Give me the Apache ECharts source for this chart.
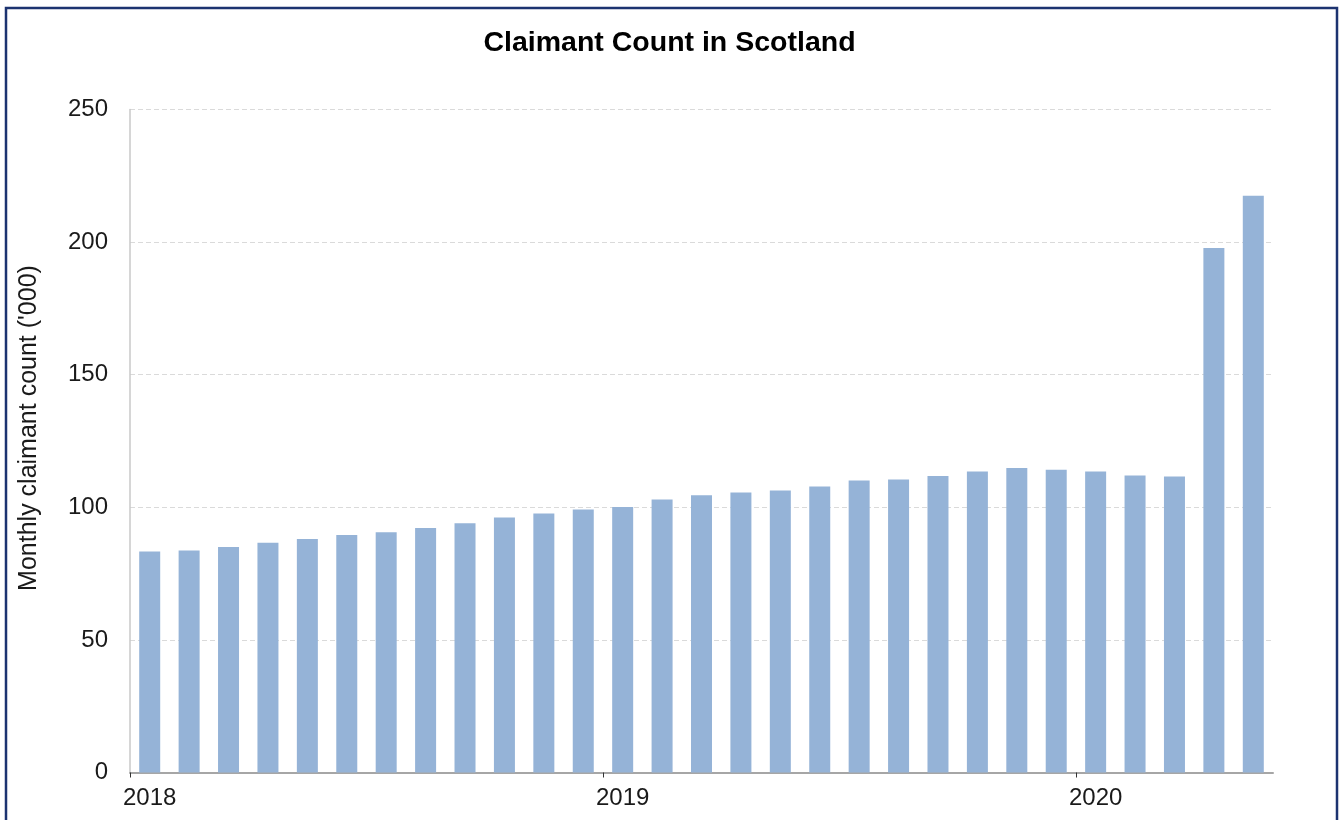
<!DOCTYPE html>
<html>
<head>
<meta charset="utf-8">
<script src="https://cdn.jsdelivr.net/npm/echarts@6/dist/echarts.min.js"></script>
<style>
html,body{margin:0;padding:0;background:#fff;}
#chart{width:1339px;height:820px;}
</style>
</head>
<body>
<div id="chart"></div>
<script>
// Months Jan 2018 – May 2020
const months = [
  "2018-01","2018-02","2018-03","2018-04","2018-05","2018-06","2018-07","2018-08","2018-09","2018-10","2018-11","2018-12",
  "2019-01","2019-02","2019-03","2019-04","2019-05","2019-06","2019-07","2019-08","2019-09","2019-10","2019-11","2019-12",
  "2020-01","2020-02","2020-03","2020-04","2020-05"
];
// Monthly claimant count ('000)
const claimants = [
  83.3, 83.7, 85.0, 86.6, 88.0, 89.6, 90.6, 92.2, 94.0, 96.2, 97.7, 99.2,
  100.1, 102.9, 104.5, 105.6, 106.3, 107.8, 110.1, 110.5, 111.8, 113.5, 114.8, 114.2,
  113.5, 112.0, 111.6, 197.8, 217.5
];
const yTicks = [0, 50, 100, 150, 200, 250];
// year boundaries (month index where each year starts)
const yearStartIdx = [0, 12, 24];
const titleText = "Claimant Count in Scotland";
const yName = "Monthly claimant count ('000)";

const font = "'Liberation Sans', Arial, sans-serif";
const chart = echarts.init(document.getElementById('chart'), null, {renderer: 'canvas'});
chart.setOption({
  animation: false,
  backgroundColor: '#ffffff',
  title: {
    text: titleText,
    left: 'center',
    top: 24,
    textStyle: {fontFamily: font, fontSize: 28.5, fontWeight: 'bold', color: '#000000'}
  },
  grid: {left: 130, right: 66, top: 109.5, bottom: 47.5, containLabel: false},
  xAxis: [{
    type: 'category',
    data: months,
    boundaryGap: true,
    axisLine: {show: true, lineStyle: {color: '#a6a6a6', width: 2}},
    axisTick: {show: false},
    axisLabel: {
      interval: 11,
      margin: 14,
      fontFamily: font, fontSize: 24, color: '#1a1a1a',
      formatter: function (v) { return v.slice(0, 4); }
    },
    splitLine: {show: false}
  }, {
    type: 'value',
    position: 'bottom',
    min: 0,
    max: months.length,
    axisLine: {show: false},
    axisLabel: {show: false},
    splitLine: {show: false},
    axisTick: {show: true, customValues: yearStartIdx, length: 5, lineStyle: {color: '#333333', width: 1}}
  }],
  yAxis: {
    type: 'value',
    min: yTicks[0],
    max: yTicks[yTicks.length - 1],
    interval: 50,
    axisLine: {show: true, lineStyle: {color: '#c8c8c8', width: 1.5}},
    axisTick: {show: false},
    axisLabel: {margin: 22, fontFamily: font, fontSize: 24, color: '#1a1a1a'},
    splitLine: {show: true, lineStyle: {color: '#dadada', width: 1, type: [5, 3]}}
  },
  series: [{
    type: 'bar',
    xAxisIndex: 0,
    data: claimants,
    barWidth: 21,
    itemStyle: {color: '#95b3d7'}
  }],
  graphic: [
    {
      type: 'rect',
      shape: {x: 6, y: 8, width: 1331, height: 840},
      style: {fill: 'none', stroke: '#1c3370', lineWidth: 2.5},
      silent: true, z: 100
    },
    {
      type: 'text',
      x: 29, y: 428,
      rotation: Math.PI / 2,
      style: {
        text: yName,
        fontFamily: font, fontSize: 25, fill: '#1a1a1a',
        textAlign: 'center', textVerticalAlign: 'middle'
      },
      silent: true
    }
  ]
});
</script>
</body>
</html>
